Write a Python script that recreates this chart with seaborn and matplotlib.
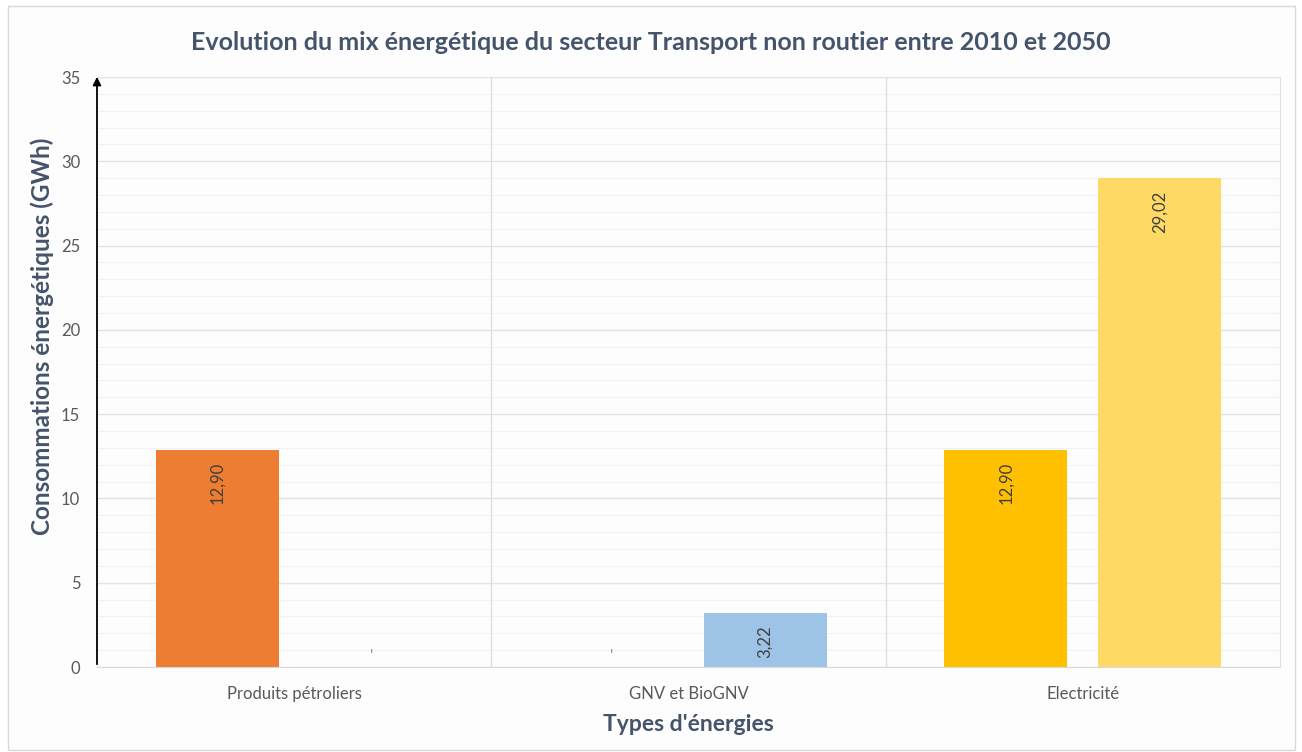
import pandas as pd
import numpy as np
import matplotlib.pyplot as plt
import seaborn as sns
from matplotlib.patches import Rectangle
from matplotlib.ticker import MultipleLocator

# Data
categories = ['Produits pétroliers', 'GNV et BioGNV', 'Electricité']
years = ['2010', '2050']
values_2010 = [12.90, 0.0, 12.90]
values_2050 = [0.0, 3.22, 29.02]
colors_2010 = ['#ED7D31', '#9DC3E6', '#FFC000']
colors_2050 = ['#A5A5A5', '#9DC3E6', '#FFD966']

df = pd.DataFrame({
    'Type': categories * 2,
    'Annee': [years[0]] * 3 + [years[1]] * 3,
    'Valeur': values_2010 + values_2050,
})

sns.set_style('white')
plt.rcParams['font.family'] = ['Lato', 'DejaVu Sans']

fig = plt.figure(figsize=(13.02, 7.52), dpi=100)
fig.patch.set_facecolor('white')
# outer chart frame
fig.patches.append(Rectangle((8 / 1302, 2 / 752), 1287 / 1302, 744 / 752,
                             transform=fig.transFigure, facecolor='#FDFDFD',
                             edgecolor='#D9D9D9', linewidth=1, zorder=-10))

ax = fig.add_axes([97 / 1302, 1 - 667 / 752, 1183 / 1302, 590 / 752])
ax.set_facecolor('#FDFDFD')

sns.barplot(data=df, x='Type', y='Valeur', hue='Annee', order=categories,
            hue_order=years, width=0.78, gap=0.2, legend=False, ax=ax,
            saturation=1, zorder=3)

# per-bar colours (bars are ordered by hue level, then category)
bar_colors = colors_2010 + colors_2050
for patch, c in zip(ax.patches, bar_colors):
    patch.set_facecolor(c)
    patch.set_edgecolor('none')

# data labels, rotated, inside top of the bars
for patch, v in zip(ax.patches, df['Valeur']):
    xc = patch.get_x() + patch.get_width() / 2
    if v > 0:
        ax.annotate(f'{v:.2f}'.replace('.', ','), (xc, v), xytext=(0, -9),
                    textcoords='offset points', rotation=90, ha='center',
                    va='top', fontsize=12, color='#404040', zorder=4)
    else:
        ax.annotate('ı', (xc, v), xytext=(0, 12), textcoords='offset points',
                    ha='center', va='center', fontsize=5, color='#404040')

ax.set_ylim(0, 35)
ax.set_xlim(-0.5, 2.5)
ax.yaxis.set_major_locator(MultipleLocator(5))
ax.yaxis.set_minor_locator(MultipleLocator(1))
ax.grid(which='major', axis='y', color='#E3E3E3', linewidth=1, zorder=0)
ax.grid(which='minor', axis='y', color='#F2F2F2', linewidth=0.8, zorder=0)
for xb in [0.5, 1.5]:
    ax.axvline(xb, color='#D9DEE8', linewidth=1, zorder=1)

for side in ['top', 'right']:
    ax.spines[side].set_color('#E3E3E3')
ax.spines['bottom'].set_color('#D9D9D9')
ax.spines['left'].set_visible(False)

# black y-axis arrow
ax.annotate('', xy=(0, 1.005), xycoords='axes fraction', xytext=(0, 0),
            arrowprops=dict(arrowstyle='-|>', color='black', lw=1.3,
                            mutation_scale=12), zorder=5)

ax.tick_params(axis='both', which='both', length=0, labelsize=12,
               labelcolor='#595959')
ax.tick_params(axis='y', pad=12)
ax.tick_params(axis='x', pad=14)

ax.set_xlabel("Types d'énergies", fontsize=16.5, fontweight='bold',
              color='#44546A', labelpad=8)
ax.set_ylabel('Consommations énergétiques (GWh)', fontsize=17.5,
              fontweight='bold', color='#44546A', labelpad=4)
ax.yaxis.set_label_coords(-0.036, 0.56)
fig.text(0.5, 1 - 42 / 752,
         'Evolution du mix énergétique du secteur Transport non routier entre 2010 et 2050',
         ha='center', va='center', fontsize=18, fontweight='bold',
         color='#44546A')

fig.savefig('out.png', dpi=100, facecolor=fig.get_facecolor())
